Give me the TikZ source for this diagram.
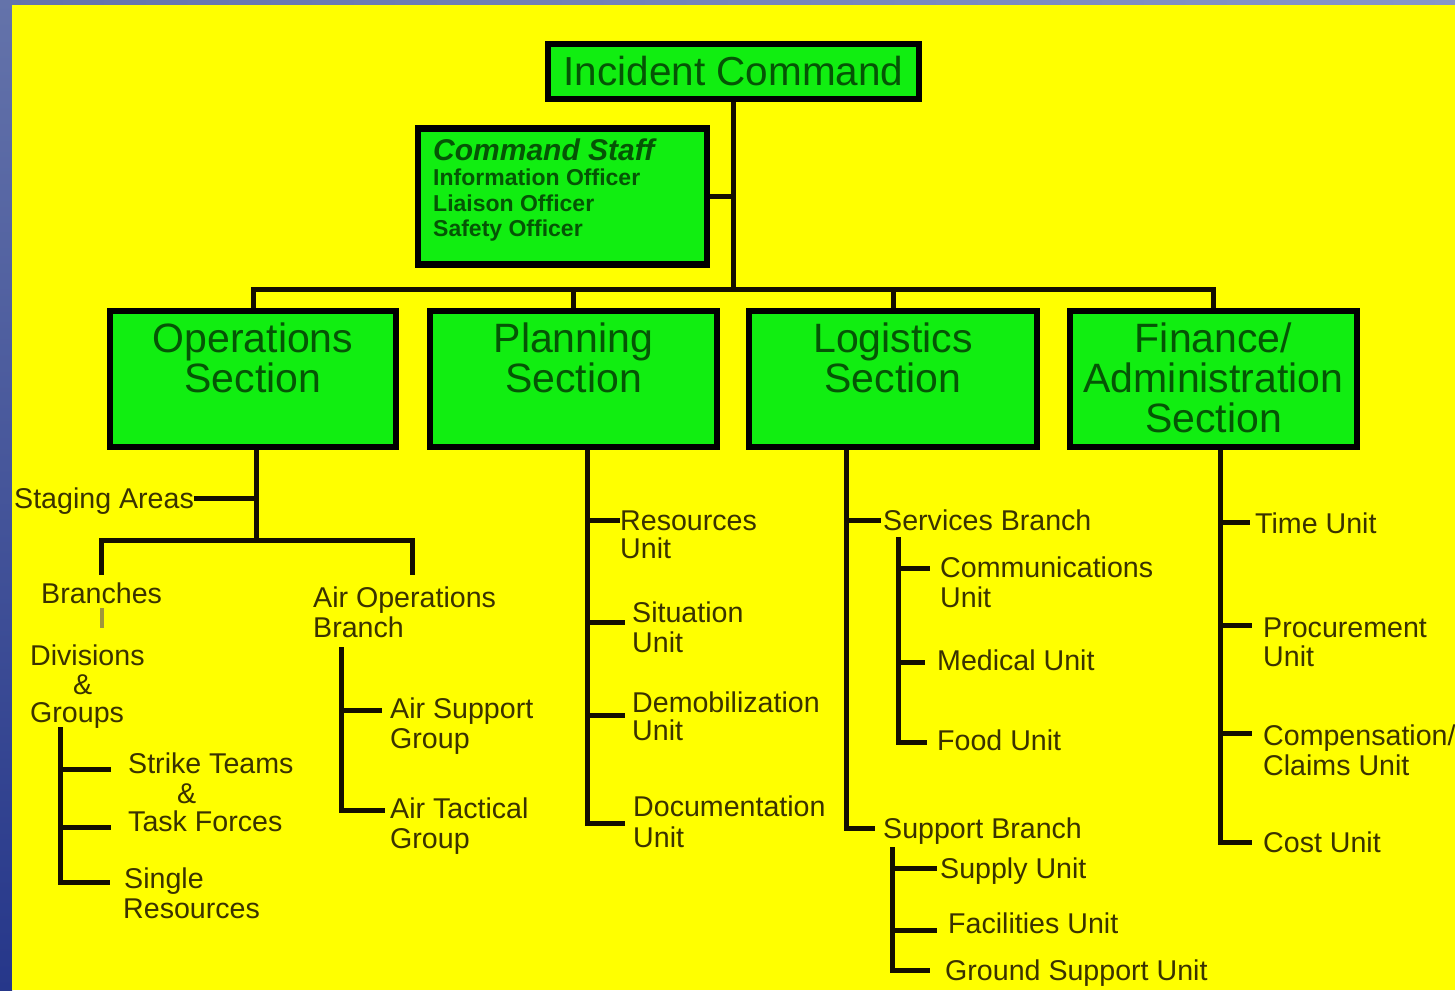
\documentclass[tikz,border=0pt]{standalone}
\usepackage{fontspec}
\setmainfont{Liberation Sans}
\definecolor{bgyellow}{RGB}{255,255,0}
\definecolor{boxgreen}{RGB}{17,238,17}
\definecolor{boxtext}{RGB}{5,85,5}
\definecolor{labtext}{RGB}{58,50,0}
\definecolor{conncol}{RGB}{20,15,0}
\definecolor{stripA}{RGB}{100,115,170}
\definecolor{stripB}{RGB}{38,55,138}
\definecolor{stripC}{RGB}{135,150,200}
\definecolor{barcol}{RGB}{160,150,60}
\begin{document}
\begin{tikzpicture}[x=1pt,y=-1pt,
  orgbox/.style={draw=black, line width=6.5pt, fill=boxgreen, inner sep=0pt},
  sectxt/.style={font=\fontsize{41}{40}\selectfont, text=boxtext, align=center, inner sep=0pt, anchor=north},
  lab/.style={font=\fontsize{28.6}{29}\selectfont, text=labtext, inner sep=0pt, anchor=west, text height=20pt, text depth=0pt},
  stafftitle/.style={font=\fontsize{30}{30}\selectfont\bfseries\itshape, text=boxtext, inner sep=0pt, anchor=west, text height=21.5pt, text depth=0pt},
  staffline/.style={font=\fontsize{23}{23}\selectfont\bfseries, text=boxtext, inner sep=0pt, anchor=west, text height=16.5pt, text depth=0pt},
  conn/.style={draw=conncol, line width=5pt},
  sepbar/.style={draw=barcol, line width=4pt}
]
\useasboundingbox (0,0) rectangle (1455,990);
% background
\shade[left color=stripA, right color=stripC] (0,0) rectangle (1455,5);
\shade[top color=stripA, bottom color=stripB] (0,0) rectangle (12,990);
\fill[bgyellow] (12,5) rectangle (1455,990);

% top boxes
\node[orgbox, minimum width=371pt, minimum height=55pt, font=\fontsize{40.5}{40}\selectfont, text=boxtext] (ic) at (733.5,71.5) {Incident Command};
\node[orgbox, minimum width=289pt, minimum height=136pt] (staff) at (562.5,196.5) {};
\node[stafftitle] (sf1) at (433,150) {Command Staff};
\node[staffline] (sf2) at (433,177) {Information Officer};
\node[staffline] (sf3) at (433,203) {Liaison Officer};
\node[staffline] (sf4) at (433,228) {Safety Officer};

% sections
\node[orgbox, minimum width=286pt, minimum height=136pt] (ops) at (253,379) {};
\node[orgbox, minimum width=287pt, minimum height=136pt] (plan) at (573.5,379) {};
\node[orgbox, minimum width=288pt, minimum height=136pt] (log) at (893,379) {};
\node[orgbox, minimum width=287pt, minimum height=136pt] (fin) at (1213.5,379) {};
\node[sectxt] (opsL) at (253,323) {Operations\\Section};
\node[sectxt] (planL) at (573.5,323) {Planning\\Section};
\node[sectxt] (logL) at (893,323) {Logistics\\Section};
\node[sectxt] (finL) at (1213.5,323) {Finance/\\Administration\\Section};

% top connectors
\coordinate (busC) at (733.5,290);
\draw[conn] (ic.south) -- (busC);
\draw[conn] (staff.east) -- (staff.east -| busC);
\draw[conn] (ops.north) -- ++(0,-18) -| (fin.north);
\draw[conn] (plan.north) -- (plan.north |- busC);
\draw[conn] (log.north) -- (log.north |- busC);

% Operations subtree
\node[lab] (stag) at (14,498) {Staging Areas};
\node[lab] (br) at (41,593) {Branches};
\node[lab] (div1) at (30,655) {Divisions};
\node[lab] (div2) at (73,684) {\&};
\node[lab] (div3) at (30,712) {Groups};
\node[lab] (st1) at (128,763) {Strike Teams};
\node[lab] (st2) at (177,793) {\&};
\node[lab] (st3) at (128,821) {Task Forces};
\node[lab] (sr1) at (124,878) {Single};
\node[lab] (sr2) at (123,908) {Resources};
\node[lab] (airA) at (313,597) {Air Operations};
\node[lab] (airB) at (313,627) {Branch};
\node[lab] (as1) at (390,708) {Air Support};
\node[lab] (as2) at (390,738) {Group};
\node[lab] (at1) at (390,808) {Air Tactical};
\node[lab] (at2) at (390,838) {Group};

\coordinate (opsT) at ([xshift=3pt]ops.south);
\coordinate (opsJ) at (256,540);
\draw[conn] (opsT) -- (opsJ);
\draw[conn] (stag.east) -- (stag.east -| opsT);
\draw[conn] ([yshift=8pt]br.north) |- (opsJ) -| ([shift={(8,-12)}]airA.north);
\draw[sepbar, shorten <=5pt, shorten >=17pt] (br.south) -- (br.south |- div1.north);
\coordinate (divT) at ([shift={(30,5)}]div3.south west);
\draw[conn] (divT) |- ([shift={(-17,6)}]st1.west);
\draw[conn] (divT) |- ([shift={(-17,6)}]st3.west);
\draw[conn] (divT) |- ([shift={(-14,4)}]sr1.west);
\coordinate (airT) at ([shift={(28,10)}]airB.south west);
\draw[conn] (airT) |- ([shift={(-8,2)}]as1.west);
\draw[conn] (airT) |- ([shift={(-5,2)}]at1.west);

% Planning subtree
\node[lab] (res1) at (620,520) {Resources};
\node[lab] (res2) at (620,548) {Unit};
\node[lab] (sit1) at (632,612) {Situation};
\node[lab] (sit2) at (632,642) {Unit};
\node[lab] (dem1) at (632,702) {Demobilization};
\node[lab] (dem2) at (632,730) {Unit};
\node[lab] (doc1) at (633,806) {Documentation};
\node[lab] (doc2) at (633,837) {Unit};
\coordinate (planT) at ([xshift=13.5pt]plan.south);
\draw[conn] (planT) |- (res1.west);
\draw[conn] (planT) |- ([shift={(-7,10)}]sit1.west);
\draw[conn] (planT) |- ([shift={(-7,13)}]dem1.west);
\draw[conn] (planT) |- ([shift={(-8,17)}]doc1.west);

% Logistics subtree
\node[lab] (sb1) at (883,520) {Services Branch};
\node[lab] (com1) at (940,567) {Communications};
\node[lab] (com2) at (940,597) {Unit};
\node[lab] (med) at (937,660) {Medical Unit};
\node[lab] (food) at (937,740) {Food Unit};
\node[lab] (sp1) at (883,828) {Support Branch};
\node[lab] (sup) at (940,868) {Supply Unit};
\node[lab] (fac) at (948,923) {Facilities Unit};
\node[lab] (gnd) at (945,970) {Ground Support Unit};
\coordinate (logT) at ([xshift=-47pt]log.south);
\draw[conn] (logT) |- ([xshift=-2pt]sb1.west);
\draw[conn] (logT) |- ([xshift=-8pt]sp1.west);
\coordinate (sbT) at ([shift={(15,7)}]sb1.south west);
\draw[conn] (sbT) |- ([shift={(-10,1)}]com1.west);
\draw[conn] (sbT) |- ([shift={(-12,2)}]med.west);
\draw[conn] (sbT) |- ([shift={(-10,2)}]food.west);
\coordinate (spT) at ([shift={(9,9)}]sp1.south west);
\draw[conn] (spT) |- ([xshift=-3pt]sup.west);
\draw[conn] (spT) |- ([shift={(-11,7)}]fac.west);
\draw[conn] (spT) |- ([xshift=-15pt]gnd.west);

% Finance subtree
\node[lab] (time) at (1255,523) {Time Unit};
\node[lab] (pro1) at (1263,627) {Procurement};
\node[lab] (pro2) at (1263,656) {Unit};
\node[lab] (cmp1) at (1263,735) {Compensation/};
\node[lab] (cmp2) at (1263,765) {Claims Unit};
\node[lab] (cost) at (1263,842) {Cost Unit};
\coordinate (finT) at ([xshift=6.5pt]fin.south);
\draw[conn] (finT) |- ([shift={(-5,-1)}]time.west);
\draw[conn] (finT) |- ([shift={(-11,-2)}]pro1.west);
\draw[conn] (finT) |- ([shift={(-11,-2)}]cmp1.west);
\draw[conn] (finT) |- ([xshift=-11pt]cost.west);
\end{tikzpicture}
\end{document}
